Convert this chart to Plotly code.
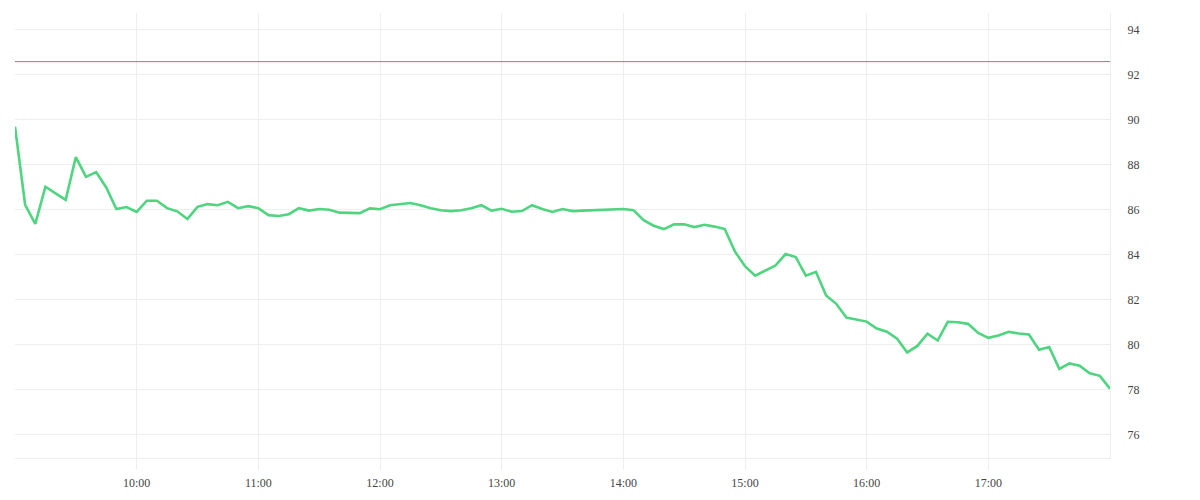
import pandas as pd
import plotly.graph_objects as go

start_time = "2024-01-02 09:00"
end_time = "2024-01-02 18:00"
times = pd.date_range(start_time, end_time, freq="5min")

hour_ticks = pd.date_range("2024-01-02 10:00", "2024-01-02 17:00", freq="1h")
hour_labels = ["10:00", "11:00", "12:00", "13:00", "14:00", "15:00", "16:00", "17:00"]

values = [
    89.69, 86.22, 85.37, 87.02, 86.73, 86.44, 88.34, 87.46, 87.67, 86.99,
    86.03, 86.12, 85.90, 86.40, 86.40, 86.07, 85.93, 85.59, 86.13, 86.25,
    86.20, 86.35, 86.07, 86.16, 86.07, 85.76, 85.72, 85.80, 86.07, 85.96,
    86.03, 86.00, 85.87, 85.85, 85.85, 86.06, 86.02, 86.20, 86.25, 86.30,
    86.20, 86.07, 85.98, 85.94, 85.98, 86.07, 86.20, 85.96, 86.04, 85.91,
    85.94, 86.20, 86.03, 85.90, 86.03, 85.94, 85.96, 85.98, 85.98, 86.03,
    86.03, 85.98, 85.54, 85.29, 85.14, 85.35, 85.35, 85.23, 85.33, 85.25,
    85.14, 84.15, 83.49, 83.07, 83.29, 83.52, 84.03, 83.90, 83.07, 83.24,
    82.19, 81.82, 81.21, 81.12, 81.03, 80.72, 80.58, 80.27, 79.66, 79.95,
    80.49, 80.19, 81.02, 81.00, 80.93, 80.53, 80.31, 80.41, 80.58, 80.50,
    80.46, 79.78, 79.90, 78.93, 79.17, 79.07, 78.73, 78.62, 78.05,
]

reference_level = 92.58
y_range = [74.97, 94.74]
y_ticks = [76, 78, 80, 82, 84, 86, 88, 90, 92, 94]

fig = go.Figure()
fig.add_trace(go.Scatter(
    x=times, y=values, mode="lines",
    line=dict(color="#4fd47f", width=2.6),
    hoverinfo="x+y", showlegend=False,
))
fig.add_trace(go.Scatter(
    x=[times[0], times[-1]], y=[reference_level, reference_level], mode="lines",
    line=dict(color="#ff5555", width=1),
    hoverinfo="skip", showlegend=False,
))

font = dict(family="Times New Roman", size=12, color="#444444")

fig.update_layout(
    width=1200, height=500,
    margin=dict(l=7, r=98, t=5, b=50),
    paper_bgcolor="white", plot_bgcolor="white",
    font=font,
    xaxis=dict(
        type="date",
        range=[times[0], times[-1]],
        tickvals=hour_ticks,
        ticktext=hour_labels,
        showgrid=True, gridcolor="#eeeeee", gridwidth=1,
        ticks="outside", ticklen=11, tickcolor="#eeeeee", tickwidth=1,
        ticklabelstandoff=3,
        showline=True, linecolor="#eeeeee", linewidth=1,
        zeroline=False, automargin=False,
        tickfont=font,
    ),
    yaxis=dict(
        side="right",
        range=y_range,
        tickvals=y_ticks,
        showgrid=True, gridcolor="#eeeeee", gridwidth=1,
        ticks="outside", ticklen=14, tickcolor="rgba(0,0,0,0)",
        showline=True, linecolor="#eeeeee", linewidth=1,
        zeroline=False, automargin=False,
        tickfont=font,
    ),
)

fig.write_html("out.html")
